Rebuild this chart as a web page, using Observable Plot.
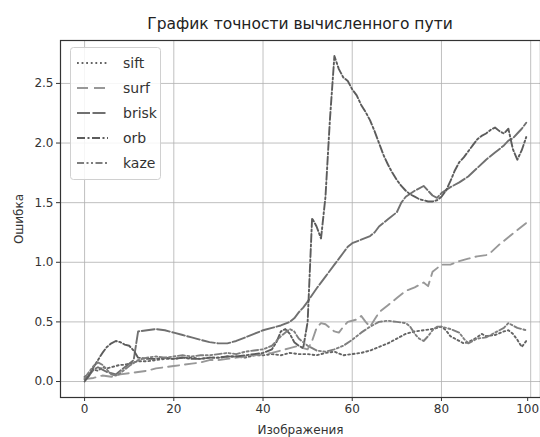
<!DOCTYPE html>
<html><head><meta charset="utf-8">
<script src="https://cdn.jsdelivr.net/npm/d3@7"></script>
<script src="https://cdn.jsdelivr.net/npm/@observablehq/plot@0.6"></script>
<style>
html,body{margin:0;padding:0;background:#fff;overflow:hidden;width:540px;height:437px}
#wrap{position:relative;width:540px;height:437px;font-family:"DejaVu Sans",sans-serif}
#title{position:absolute;left:60px;width:480px;top:14px;text-align:center;font-size:15.5px;color:#222;line-height:20px}
#chart{position:absolute;left:0;top:32px}
#legend{position:absolute;left:0;top:0;pointer-events:none}
</style></head><body>
<div id="wrap"><div id="title">График точности вычисленного пути</div><div id="chart"></div><svg id="legend" width="540" height="200"></svg></div>
<script>
const titleText = "График точности вычисленного пути";
const xLabel = "Изображения";
const yLabel = "Ошибка";
const xTicks = [0, 20, 40, 60, 80, 100];
const yTicks = [0, 0.5, 1.0, 1.5, 2.0, 2.5];
const seriesNames = ["sift", "surf", "brisk", "orb", "kaze"];

const siftX = [0,1,2,3,4,5,6,7,8,9,10,12,14,16,18,20,22,24,26,28,30,32,34,36,38,40,42,44,46,48,50,52,54,56,58,60,62,64,66,68,70,72,74,76,78,80,81,82,84,85,86,88,89,90,92,94,95,96,97,98,99];
const siftY = [0.04,0.06,0.10,0.09,0.12,0.11,0.12,0.13,0.14,0.14,0.15,0.17,0.17,0.18,0.19,0.19,0.20,0.20,0.19,0.20,0.20,0.21,0.21,0.20,0.22,0.22,0.23,0.22,0.24,0.23,0.23,0.22,0.24,0.25,0.22,0.23,0.24,0.26,0.29,0.32,0.36,0.40,0.42,0.43,0.44,0.46,0.43,0.38,0.34,0.32,0.33,0.37,0.40,0.38,0.39,0.42,0.43,0.40,0.35,0.29,0.34];

const surfX = [0,2,4,6,8,10,12,14,16,18,20,22,24,26,28,30,32,34,36,38,40,42,44,46,48,49,50,51,52,53,54,56,57,58,59,61,62,63,64,65,66,68,70,72,74,76,77,78,80,82,84,86,88,90,91,93,95,97,99];
const surfY = [0.02,0.03,0.05,0.04,0.06,0.07,0.08,0.09,0.11,0.12,0.13,0.14,0.15,0.16,0.18,0.18,0.19,0.20,0.21,0.22,0.23,0.24,0.26,0.28,0.30,0.28,0.27,0.34,0.45,0.49,0.48,0.42,0.41,0.46,0.50,0.52,0.55,0.50,0.46,0.52,0.58,0.64,0.70,0.76,0.79,0.83,0.80,0.92,0.98,0.98,1.01,1.03,1.05,1.06,1.08,1.15,1.21,1.27,1.33];

const briskX = [0,1,2,3,4,5,6,7,8,9,10,11,12,14,16,18,20,22,24,26,28,30,32,34,36,38,40,42,44,46,47,48,49,50,52,54,56,58,59,60,62,64,65,66,68,70,71,72,74,76,78,79,80,82,84,86,88,90,92,94,95,96,97,98,99];
const briskY = [0.02,0.05,0.10,0.12,0.10,0.08,0.07,0.06,0.09,0.12,0.15,0.18,0.42,0.43,0.44,0.43,0.41,0.39,0.37,0.35,0.33,0.32,0.32,0.34,0.37,0.40,0.43,0.45,0.47,0.50,0.53,0.58,0.62,0.67,0.78,0.88,0.98,1.08,1.13,1.16,1.19,1.22,1.25,1.30,1.36,1.42,1.50,1.55,1.60,1.64,1.56,1.54,1.58,1.63,1.67,1.72,1.79,1.86,1.92,1.98,2.02,2.04,2.08,2.12,2.17];

const orbX = [0,1,2,3,4,5,6,7,8,9,10,11,12,14,16,18,20,22,24,26,28,30,32,34,36,38,40,42,43,44,45,46,47,48,49,50,51,52,53,54,55,56,57,58,59,60,61,62,63,64,65,66,67,68,69,70,71,72,73,74,75,76,77,78,79,80,81,82,83,84,85,86,87,88,89,90,91,92,93,94,95,96,97,98,99];
const orbY = [0.00,0.05,0.12,0.18,0.24,0.29,0.32,0.34,0.33,0.31,0.30,0.26,0.20,0.19,0.19,0.20,0.19,0.20,0.19,0.19,0.20,0.20,0.21,0.21,0.22,0.23,0.24,0.27,0.33,0.42,0.44,0.40,0.33,0.30,0.28,0.50,1.37,1.30,1.20,1.55,2.20,2.73,2.62,2.55,2.52,2.45,2.40,2.32,2.26,2.19,2.10,2.00,1.90,1.82,1.75,1.69,1.64,1.60,1.57,1.55,1.53,1.52,1.51,1.51,1.52,1.55,1.60,1.68,1.77,1.84,1.88,1.93,1.98,2.03,2.06,2.08,2.11,2.13,2.10,2.08,2.12,1.95,1.86,1.94,2.05];

const kazeX = [0,1,2,3,4,5,6,7,8,9,10,12,14,16,18,20,22,24,26,28,30,32,34,36,38,40,42,44,46,47,48,50,52,54,56,58,60,62,64,66,68,70,72,73,74,75,76,77,78,79,80,82,84,85,86,87,88,90,92,94,95,96,97,98,99];
const kazeY = [0.03,0.08,0.13,0.16,0.14,0.10,0.06,0.05,0.07,0.10,0.13,0.18,0.20,0.21,0.20,0.21,0.22,0.21,0.22,0.22,0.23,0.24,0.23,0.25,0.26,0.27,0.30,0.38,0.44,0.42,0.36,0.30,0.26,0.25,0.27,0.30,0.35,0.41,0.46,0.50,0.51,0.50,0.49,0.46,0.40,0.36,0.34,0.38,0.43,0.46,0.46,0.44,0.41,0.36,0.32,0.34,0.36,0.37,0.41,0.45,0.49,0.47,0.45,0.44,0.43];

const colors = {sift:"#646464", surf:"#989898", brisk:"#707070", orb:"#5c5c5c", kaze:"#7e7e7e"};
const dashes = {sift:"1.8,2.8", surf:"11,6", brisk:"13,2.5", orb:"8,2.5,2,2.5", kaze:"7,2.5,2,2.5,2,2.5"};

const series = {
  sift: siftX.map((x,i)=>({x, y: siftY[i]})),
  surf: surfX.map((x,i)=>({x, y: surfY[i]})),
  brisk: briskX.map((x,i)=>({x, y: briskY[i]})),
  orb: orbX.map((x,i)=>({x, y: orbY[i]})),
  kaze: kazeX.map((x,i)=>({x, y: kazeY[i]}))
};

const lineMarks = seriesNames.map(n => Plot.line(series[n], {x:"x", y:"y", stroke: colors[n], strokeWidth: 1.9, strokeDasharray: dashes[n]}));

const chart = Plot.plot({
  width: 540, height: 405,
  marginTop: 8, marginBottom: 40, marginLeft: 60, marginRight: 0,
  style: {fontFamily: "DejaVu Sans, sans-serif", fontSize: "12px", color: "#333", background: "#fff", overflow: "visible"},
  x: {domain: [-5.4, 102.2]},
  y: {domain: [-0.134, 2.86]},
  marks: [
    Plot.gridX(xTicks, {stroke: "#b0b0b0", strokeOpacity: 0.8, strokeWidth: 1}),
    Plot.gridY(yTicks, {stroke: "#b0b0b0", strokeOpacity: 0.8, strokeWidth: 1}),
    ...lineMarks,
    Plot.frame({stroke: "#333", strokeWidth: 1.2}),
    Plot.axisX(xTicks.slice(0, -1), {tickFormat: d => String(d), tickSize: 4, tickPadding: 3, label: xLabel, labelAnchor: "center", labelArrow: "none", labelOffset: 36, fill: "#333"}),
    Plot.axisX(xTicks.slice(-1), {tickFormat: d => String(d), tickSize: 4, tickPadding: 3, label: null, dx: -3, fill: "#333"}),
    Plot.axisY({ticks: yTicks, tickFormat: d3.format(".1f"), tickSize: 4, tickPadding: 3, label: yLabel, labelAnchor: "center", labelArrow: "none", labelOffset: 46, fill: "#333"})
  ]
});
document.getElementById("chart").appendChild(chart);
document.getElementById("title").textContent = titleText;

// legend overlay
const lg = d3.select("#legend");
lg.append("rect").attr("x", 70.5).attr("y", 47.5).attr("width", 90).attr("height", 132).attr("rx", 3)
  .attr("fill", "#fff").attr("fill-opacity", 0.85).attr("stroke", "#d0d0d0");
seriesNames.forEach((n, i) => {
  const yy = 63 + i * 25;
  lg.append("line").attr("x1", 77).attr("x2", 108).attr("y1", yy).attr("y2", yy)
    .attr("stroke", colors[n]).attr("stroke-width", 1.9).attr("stroke-dasharray", dashes[n]);
  lg.append("text").attr("x", 123).attr("y", yy).attr("dy", "0.35em")
    .attr("font-family", "DejaVu Sans, sans-serif").attr("font-size", 14).attr("fill", "#333").text(n);
});
</script>
</body></html>
